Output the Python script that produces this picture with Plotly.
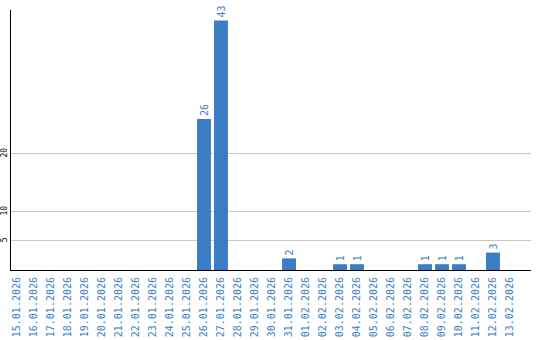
import plotly.graph_objects as go

dates = ["15.01.2026","16.01.2026","17.01.2026","18.01.2026","19.01.2026","20.01.2026",
         "21.01.2026","22.01.2026","23.01.2026","24.01.2026","25.01.2026","26.01.2026",
         "27.01.2026","28.01.2026","29.01.2026","30.01.2026","31.01.2026","01.02.2026",
         "02.02.2026","03.02.2026","04.02.2026","05.02.2026","06.02.2026","07.02.2026",
         "08.02.2026","09.02.2026","10.02.2026","11.02.2026","12.02.2026","13.02.2026"]
counts = [0,0,0,0,0,0,0,0,0,0,0,26,43,0,0,0,2,0,0,1,1,0,0,0,1,1,1,0,3,0]
ytick_vals = [5, 10, 20]

blue = "#3b7dc4"
labels = [str(v) if v > 0 else "" for v in counts]

fig = go.Figure(go.Bar(
    x=list(range(len(dates))), y=counts, text=labels,
    textposition="outside", textangle=-90, cliponaxis=False,
    textfont=dict(family="DejaVu Sans Mono", size=10, color=blue),
    marker=dict(color=blue, line=dict(width=0)), width=0.82,
))
fig.update_layout(
    width=540, height=340, margin=dict(l=11, r=9, t=10, b=70),
    plot_bgcolor="white", paper_bgcolor="white", showlegend=False,
    font=dict(family="DejaVu Sans Mono"),
)
fig.update_xaxes(
    tickmode="array", tickvals=list(range(len(dates))), ticktext=dates,
    tickangle=-90, tickfont=dict(size=10, color=blue), automargin=False,
    ticklabelstandoff=2,
    range=[-0.353, 30.235], showgrid=False, showline=True, linecolor="black",
    linewidth=1, ticks="", zeroline=False,
)
fig.update_yaxes(
    tickmode="array", tickvals=ytick_vals, ticktext=[str(v) for v in ytick_vals],
    tickangle=-90, tickfont=dict(size=8, color="black"), automargin=False,
    range=[0, 44.8], showgrid=True, gridcolor="#c8c8c8", gridwidth=1,
    showline=True, linecolor="black", linewidth=1, zeroline=False, ticks="",
)
fig.write_html("out.html")
